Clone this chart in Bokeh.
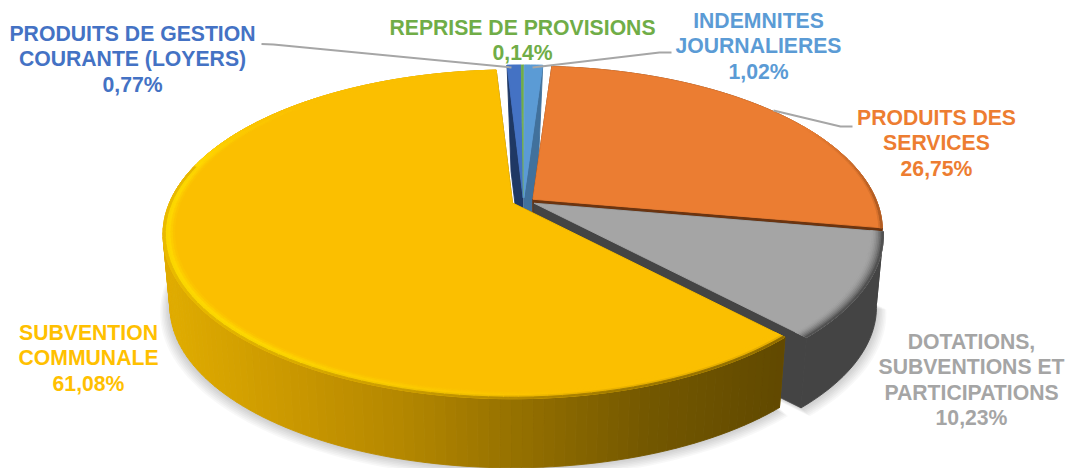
from math import sin, cos, radians
from bokeh.plotting import figure
from bokeh.models import Range1d
from bokeh.embed import file_html
from bokeh.resources import INLINE
from bokeh.core.properties import value

# ---- data (clockwise from the top)
categories = ["PRODUITS DE GESTION COURANTE (LOYERS)", "REPRISE DE PROVISIONS", "INDEMNITES JOURNALIERES",
              "PRODUITS DES SERVICES", "DOTATIONS, SUBVENTIONS ET PARTICIPATIONS", "SUBVENTION COMMUNALE"]
shares = [0.77, 0.14, 1.02, 26.75, 10.23, 61.08]
label_lines = [["PRODUITS DE GESTION", "COURANTE (LOYERS)"], ["REPRISE DE PROVISIONS"],
               ["INDEMNITES", "JOURNALIERES"], ["PRODUITS DES", "SERVICES"],
               ["DOTATIONS,", "SUBVENTIONS ET", "PARTICIPATIONS"], ["SUBVENTION", "COMMUNALE"]]
face_colors = ["#4472C4", "#70AD47", "#5B9BD5", "#EB7D32", "#A5A5A5", "#FBBF00"]
wall_colors = ["#1F3864", "#3F6B2A", "#41719C", "#6B3410", "#444444", "#7A5C00"]
text_colors = ["#4472C4", "#70AD47", "#5B9BD5", "#ED7D31", "#A5A5A5", "#FFC000"]

# ---- layout of the fake-3D pie (in page pixels)
CX, CY = 523, 201
R, S, K = 343, 158.4, 0.191    # radius, vertical scale, perspective
START = -3.2                   # angle of the first slice
EXPLODE = 12
EXPLODE_Y = 0.3
DEPTH = 73
BOTTOM = 0.98


def hexrgb(c):
    return tuple(int(c[i:i + 2], 16) for i in (1, 3, 5))


def mix(a, b, t):
    t = max(0.0, min(1.0, t))
    return "#%02x%02x%02x" % tuple(round(x + (y - x) * t) for x, y in zip(a, b))


def project(ang, r, ax, ay):
    a = radians(ang)
    X, Y = r * sin(a), -r * cos(a)
    w = 1 - K * Y
    return ax + R * X / w, ay + S * Y / w


def down(pt, ax, ay, b=BOTTOM):
    return ax + (pt[0] - ax) * b, ay + (pt[1] - ay) * b + DEPTH


def arc(a0, a1, r, ax, ay):
    n = max(2, int(abs(a1 - a0) / 1.5) + 1)
    return [project(a0 + (a1 - a0) * i / n, r, ax, ay) for i in range(n + 1)]


# slice geometry comes from the shares
slices = []
angle = START
for share in shares:
    a0, a1 = angle, angle + share * 3.6
    mid = radians((a0 + a1) / 2)
    slices.append((a0, a1, CX + EXPLODE * sin(mid), CY - EXPLODE * EXPLODE_Y * cos(mid)))
    angle = a1

xs, ys, fills = [], [], []


def add(points, color):
    xs.append([q[0] for q in points])
    ys.append([q[1] for q in points])
    fills.append(color)


# yellow wall colours, left to right, across the page
stops = [(165, (224, 172, 0)), (300, (200, 150, 0)), (400, (180, 135, 0)),
         (540, (143, 108, 0)), (650, (115, 87, 0)), (785, (97, 73, 0))]


def yellow_wall(x):
    for (x0, c0), (x1, c1) in zip(stops, stops[1:]):
        if x <= x1:
            return mix(c0, c1, (x - x0) / (x1 - x0))
    return mix(stops[-1][1], stops[-1][1], 0)


def rim(index, a0, a1, ax, ay, width, colorfn, rings=5, step=2.0):
    n = max(1, int((a1 - a0) / step))
    for j in range(n):
        b0, b1 = a0 + (a1 - a0) * j / n, a0 + (a1 - a0) * (j + 1) / n
        for i in range(rings):
            r0, r1 = 1 - width * (1 - i / rings), 1 - width * (1 - (i + 1) / rings)
            add([project(b0, r0, ax, ay), project(b1, r0, ax, ay),
                 project(b1, r1, ax, ay), project(b0, r1, ax, ay)],
                colorfn((b0 + b1) / 2, (i + 0.5) / rings))


# soft shadow under the pie
shadow_x, shadow_y = [], []
for idx in (4, 5):
    a0, a1, ax, ay = slices[idx]
    for grow in range(8):
        rr = 1 + grow * 0.004
        pts = [(ax, ay)] + arc(a0, a1, rr, ax, ay)
        pts = [down(q, ax, ay) for q in pts]
        shadow_x.append([q[0] for q in pts])
        shadow_y.append([q[1] + grow * 0.6 for q in pts])

for idx, (a0, a1, ax, ay) in enumerate(slices):
    face = face_colors[idx]
    wall = wall_colors[idx]
    thin = shares[idx] < 5
    # radial walls: the thin slices only show the wall that faces the gap
    if thin:
        edges = {0: [a0], 2: [a1]}.get(idx, [])
        inset = 0.75
    else:
        edges = [a0, a1]
        inset = BOTTOM
    for edge in edges:
        rp = project(edge, 1, ax, ay)
        add([(ax, ay), rp, down(rp, ax, ay, inset), (ax, ay + DEPTH)], wall)
    # outer wall
    step_pts = arc(a0, a1, 1, ax, ay)
    if idx == 5:
        for p0, p1 in zip(step_pts, step_pts[1:]):
            add([p0, p1, down(p1, ax, ay), down(p0, ax, ay)], yellow_wall((p0[0] + p1[0]) / 2))
    elif not thin:
        add(step_pts + [down(q, ax, ay) for q in reversed(step_pts)], wall)
    # top face
    add([(ax, ay)] + step_pts, face)

    # bevel on the outer rim
    if idx == 3:
        f, w = hexrgb(face), hexrgb(wall)
        rim(idx, 60, a1, ax, ay, 0.01,
            lambda ang, t, f=f, w=w: mix(f, w, 0.6 * t * min(1, (ang - 60) / 30)), rings=2)
    elif idx == 4:
        f, w = hexrgb(face), hexrgb(wall)
        rim(idx, a0, a1, ax, ay, 0.036, lambda ang, t, f=f, w=w: mix(f, w, t * t), rings=8)
    elif idx == 5:
        f = hexrgb(face)
        bright = (255, 222, 0)

        def yellow_rim(ang, t, f=f):
            px, _ = project(ang, 1, slices[5][2], slices[5][3])
            wallc = hexrgb(yellow_wall(px))
            glow = min(1, max(0, (ang - 170) / 50)) * min(1, max(0, (318 - ang) / 40))
            if t < 0.65:
                return mix(f, bright, glow * t / 0.65)
            top = mix(f, bright, glow)
            if ang > 285:
                return mix(hexrgb(top), f, (ang - 285) / 40)
            return mix(hexrgb(top), wallc, (t - 0.65) / 0.35)

        rim(idx, a0, a1, ax, ay, 0.032, yellow_rim)

p = figure(width=1066, height=468, x_range=Range1d(0, 1066), y_range=Range1d(468, 0),
           toolbar_location=None, output_backend="svg", min_border=0,
           background_fill_color="white", border_fill_color="white", outline_line_color=None)
p.axis.visible = False
p.grid.visible = False

p.patches(shadow_x, shadow_y, fill_color="black", fill_alpha=0.028, line_color=None)
p.patches(xs, ys, fill_color=fills, line_color=fills, line_width=0.9)

# leader lines
for lx, ly in ([261, 273, 511], [43.5, 44, 67]), ([532, 659, 671], [67, 52, 52]), ([773, 840, 852], [110, 126, 126]):
    p.line(lx, ly, line_color="#A6A6A6", line_width=2)

# labels
label_centres = [(132, 33), (522, 27), (758, 20), (936, 117), (971, 341), (88, 332)]
for i, lines in enumerate(label_lines):
    cx, cy = label_centres[i]
    texts = lines + [f"{shares[i]:.2f}".replace(".", ",") + "%"]
    p.text([cx] * len(texts), [cy + 25.4 * n for n in range(len(texts))], text=texts,
           text_color=text_colors[i], text_font=value("Liberation Sans"), text_font_style="bold",
           text_font_size="21.2px", text_align="center", text_baseline="middle")

open("out.html", "w").write(file_html(p, INLINE))
